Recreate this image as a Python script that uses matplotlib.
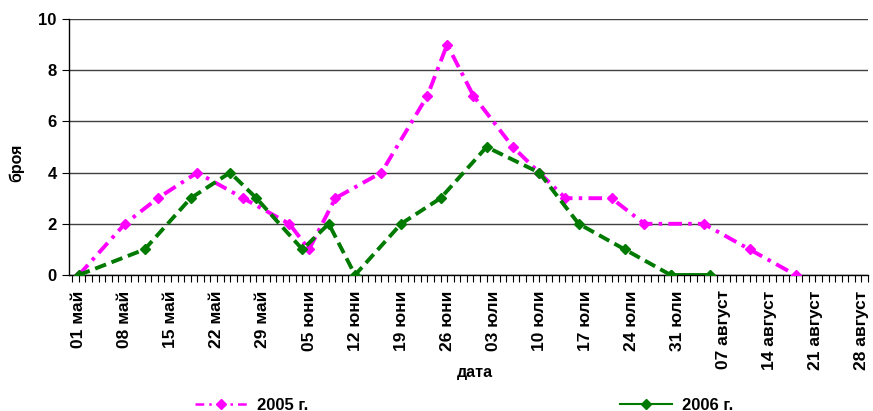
import numpy as np
import pandas as pd
import matplotlib
matplotlib.use("Agg")
import matplotlib.pyplot as plt
from matplotlib.lines import Line2D
from matplotlib.ticker import MultipleLocator

plt.rcParams['font.family'] = ['Liberation Sans', 'DejaVu Sans']
plt.rcParams['font.weight'] = 'bold'

# ------------------------------------------------------------------
# данни (дата -> брой), прочетени от графиката
# ------------------------------------------------------------------
dates_2005 = ["01.05", "08.05", "13.05", "19.05", "26.05", "02.06", "05.06",
              "09.06", "16.06", "23.06", "26.06", "30.06", "06.07", "10.07",
              "14.07", "21.07", "26.07", "04.08", "11.08", "18.08"]
counts_2005 = [0, 2, 3, 4, 3, 2, 1, 3, 4, 7, 9, 7, 5, 4, 3, 3, 2, 2, 1, 0]

dates_2006 = ["01.05", "11.05", "18.05", "24.05", "28.05", "04.06", "08.06",
              "12.06", "19.06", "25.06", "02.07", "10.07", "16.07", "23.07",
              "30.07", "05.08"]
counts_2006 = [0, 1, 3, 4, 3, 1, 2, 0, 2, 3, 5, 4, 2, 1, 0, 0]

tick_labels = ["01 май", "08 май", "15 май", "22 май", "29 май",
               "05 юни", "12 юни", "19 юни", "26 юни",
               "03 юли", "10 юли", "17 юли", "24 юли", "31 юли",
               "07 август", "14 август", "21 август", "28 август"]


def days_from_may1(items):
    d = pd.to_datetime([s + ".2001" for s in items], format="%d.%m.%Y")
    return np.asarray((d - pd.Timestamp("2001-05-01")).days, dtype=float)


x05 = days_from_may1(dates_2005)
x06 = days_from_may1(dates_2006)
xt = np.arange(len(tick_labels)) * 7

MAG = "#ff00ff"
GRN = "#007a00"

fig = plt.figure(figsize=(8.73, 4.11), dpi=100)
ax = fig.add_axes([69 / 873, 1 - 275 / 411, (868 - 69) / 873, (275 - 19) / 411])

ax.plot(x05, counts_2005, color=MAG, lw=2.8, ls=(0, (3.5, 1.6, 0.9, 1.6)),
        marker="D", ms=5, zorder=3)
ax.plot(x06[:-1], counts_2006[:-1], color=GRN, lw=2.8, ls=(0, (3.0, 1.5)),
        marker="D", ms=5, zorder=4)
ax.plot(x06[-2:], counts_2006[-2:], color=GRN, lw=2.8, marker="D", ms=5, zorder=4)

ax.set_xlim(-1.5, 120)
ax.set_ylim(0, 10)
ax.set_yticks(np.arange(0, 11, 2))
ax.set_xticks(xt)
ax.set_xticklabels(tick_labels, rotation=90, fontsize=12.5, fontweight='bold')
ax.xaxis.set_minor_locator(MultipleLocator(1))
ax.tick_params(axis='x', which='both', direction='out', length=5, width=0.8, pad=6)
ax.tick_params(axis='y', direction='out', length=5, width=0.8, labelsize=12, pad=4)
for t in ax.get_yticklabels():
    t.set_fontweight('bold')

ax.yaxis.grid(True, color="#404040", lw=1)
ax.set_axisbelow(True)
for s in ("top", "right"):
    ax.spines[s].set_visible(False)
ax.spines["left"].set_linewidth(1)
ax.spines["bottom"].set_linewidth(1)

fig.text(17 / 873, 1 - 163 / 411, "броя", fontsize=11.5, fontweight='bold',
         rotation=90, ha='center', va='center')
fig.text(475 / 873, 1 - 372 / 411, "дата", fontsize=11.5, fontweight='bold',
         ha='center', va='center')

h05 = Line2D([], [], color=MAG, lw=1.8, ls=(0, (3.5, 2, 1, 2)), marker="D", ms=5)
h06 = Line2D([], [], color=GRN, lw=1.5, marker="D", ms=5)
for h, lab, x0 in ((h05, "2005 г.", 195), (h06, "2006 г.", 620)):
    fig.legend(handles=[h], labels=[lab], loc="center left",
               bbox_to_anchor=(x0 / 873, 1 - 405 / 411), frameon=False,
               borderaxespad=0, borderpad=0, handlelength=3.1,
               handletextpad=0.6, prop={'size': 12, 'weight': 'bold'})

fig.savefig("out.png", dpi=100)
